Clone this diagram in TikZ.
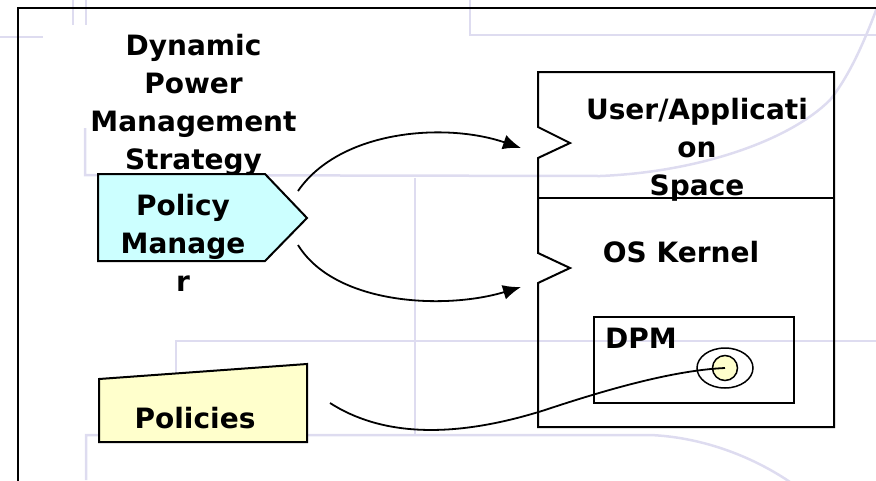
\documentclass[tikz,border=0pt]{standalone}
\usepackage{fontspec}
\setmainfont{DejaVu Sans}
\usetikzlibrary{arrows.meta,shapes.geometric}
\definecolor{bgc}{HTML}{DEDCF0}
\definecolor{pmfill}{HTML}{CCFFFF}
\definecolor{polfill}{HTML}{FFFFCC}
\begin{document}
\begin{tikzpicture}[x=1pt,y=-1pt,
  bgline/.style={draw=bgc, line width=2.5pt},
  boxline/.style={draw=black, line width=2pt, line join=miter},
  lbl/.style={font=\bfseries\fontsize{28}{38}\selectfont, align=center, inner sep=0pt, anchor=base},
  conn/.style={line width=1.8pt},
  arr/.style={conn, -{Latex[length=18pt,width=15pt]}},
]
\useasboundingbox (0,0) rectangle (876,480);
% faint background template lines
\draw[bgline] (73,0) -- (73,25);
\draw[bgline] (86,0) -- (86,25);
\draw[bgline] (0,37) -- (43,37);
\draw[bgline] (470,0) -- (470,35) -- (876,35);
\draw[bgline] (85,128) -- (85,175) -- (600,176) .. controls (700,172) and (790,140) .. (830,100) .. controls (850,75) and (865,40) .. (878,5);
\draw[bgline] (415,178) -- (415,435);
\draw[bgline] (176,375) -- (176,341) -- (876,341);
\draw[bgline] (86,480) -- (86,435) -- (650,435) .. controls (700,437) and (750,455) .. (790,482);
% outer frame
\draw[line width=2pt] (18,490) -- (18,7.5) -- (890,7.5);
% Policy Manager pentagon
\node[draw=none, inner sep=0pt, minimum width=209pt, minimum height=87pt] (pm) at (202.5,217.5) {};
\draw[boxline, fill=pmfill] (98,174) -- (265,174) -- (307,218) -- (265,261) -- (98,261) -- cycle;
% Policies box
\node[draw=none, inner sep=0pt, minimum width=208pt, minimum height=70pt] (pol) at (203,407) {};
\draw[boxline, fill=polfill] (99,379) -- (307,364) -- (307,442) -- (99,442) -- cycle;
% Right box with notches
\node[draw=none, inner sep=0pt, minimum width=296pt, minimum height=355pt] (sys) at (686,249.5) {};
\draw[boxline] (538,127) -- (538,72) -- (834,72) -- (834,427) -- (538,427) -- (538,283) -- (570,268) -- (538,253) -- (538,158) -- (570,143) -- cycle;
\draw[boxline] (538,198) -- (834,198);
\coordinate (userin) at (521,148);
\coordinate (kernin) at (521,287);
% DPM box
\node[boxline, inner sep=0pt, minimum width=200pt, minimum height=86pt] (dpm) at (694,360) {};
\node[draw, line width=1.5pt, ellipse, inner sep=0pt, minimum width=56pt, minimum height=40pt] (outer) at (725,368) {};
\node[draw, line width=1.5pt, circle, fill=polfill, inner sep=0pt, minimum size=25pt] (inner) at (725,368) {};
% texts
\node[lbl] (title) at (193.5,169) {Dynamic\\Power\\Management\\Strategy};
\node[lbl] (pmtext) at (183,291) {Policy\\Manage\\r};
\node[lbl] (poltext) at (195,428) {Policies};
\node[lbl] (usertext) at (697,195) {User/Applicati\\on\\Space};
\node[lbl] (kerntext) at (681,262) {OS Kernel};
\node[lbl, anchor=base west] (dpmtext) at (605,348) {DPM};
% connectors
\coordinate (pmtop) at (298,191);
\coordinate (pmbot) at (298,245);
\coordinate (polout) at (330,403);
\draw[arr] (pmtop) .. controls (340,130) and (445,122) .. (userin);
\draw[arr] (pmbot) .. controls (335,305) and (445,310) .. (kernin);
\draw[conn] (polout) .. controls (380,435) and (450,440) .. (545,410) .. controls (620,385) and (680,370) .. (inner.center);
\end{tikzpicture}
\end{document}
